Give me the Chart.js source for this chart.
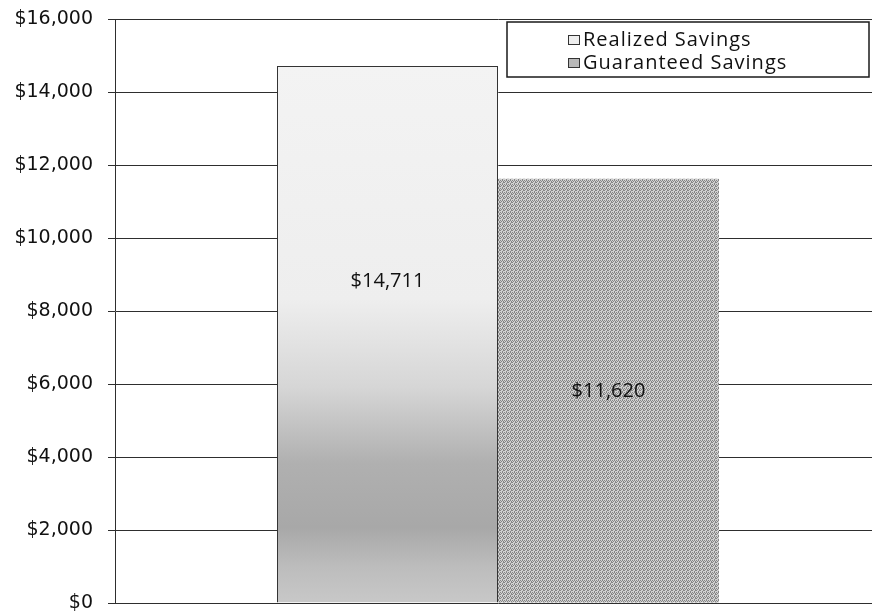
<!DOCTYPE html>
<html>
<head>
<meta charset="utf-8">
<script src="https://cdn.jsdelivr.net/npm/chart.js@4.4.1/dist/chart.umd.min.js"></script>
<style>
  html, body { margin: 0; padding: 0; background: #fff; overflow: hidden; }
  /* plot runs a little past the right edge, as in the scan */
  #wrap { width: 881px; height: 615px; }
</style>
</head>
<body>
<div id="wrap"><canvas id="chart"></canvas></div>
<script>
// Data
const categories = [""]
const seriesNames = ["Realized Savings", "Guaranteed Savings"]
const realized = [14711]
const guaranteed = [11620]
const yTicks = [0, 2000, 4000, 6000, 8000, 10000, 12000, 14000, 16000]
// where the value label sits, as a share of the bar height
const labelAt = [0.6, 0.5]

const money = (v) => "$" + v.toLocaleString("en-US")

// Small dithered fill like the scanned original
const makePattern = (dark, light) => {
  const c = document.createElement("canvas")
  c.width = 4
  c.height = 4
  const g = c.getContext("2d")
  g.fillStyle = light
  g.fillRect(0, 0, 4, 4)
  g.fillStyle = dark
  g.fillRect(0, 0, 1, 1)
  g.fillRect(2, 0, 1, 1)
  g.fillRect(1, 1, 1, 1)
  g.fillRect(3, 2, 1, 1)
  g.fillRect(0, 2, 1, 1)
  g.fillRect(2, 3, 1, 1)
  g.fillRect(3, 1, 1, 1)
  return g.createPattern(c, "repeat")
}

const realizedFill = (context) => {
  const area = context.chart.chartArea
  if (!area) return "#eeeeee"
  const ctx = context.chart.ctx
  const grad = ctx.createLinearGradient(0, area.top, 0, area.bottom)
  grad.addColorStop(0, "#f4f4f4")
  grad.addColorStop(0.48, "#eeeeee")
  grad.addColorStop(0.63, "#d6d6d6")
  grad.addColorStop(0.76, "#b0b0b0")
  grad.addColorStop(0.87, "#a8a8a8")
  grad.addColorStop(0.94, "#bdbdbd")
  grad.addColorStop(1, "#c8c8c8")
  return grad
}

// Value labels inside the bars
const valueLabels = {
  id: "valueLabels",
  afterDatasetsDraw(chart) {
    const ctx = chart.ctx
    const y = chart.scales.y
    ctx.save()
    ctx.font = "20px 'Open Sans', sans-serif"
    ctx.fillStyle = "#111"
    ctx.textAlign = "center"
    ctx.textBaseline = "middle"
    chart.data.datasets.forEach((ds, i) => {
      const bar = chart.getDatasetMeta(i).data[0]
      const v = ds.data[0]
      ctx.fillText(money(v), bar.x, y.getPixelForValue(v * labelAt[i]))
    })
    ctx.restore()
  },
}

// Boxed legend inside the plot, top right
const boxLegend = {
  id: "boxLegend",
  afterDraw(chart) {
    const ctx = chart.ctx
    const a = chart.chartArea
    const left = 507
    const top = a.top + 3
    const w = 362
    const h = 55
    ctx.save()
    ctx.fillStyle = "#fff"
    ctx.fillRect(left, top, w, h)
    ctx.strokeStyle = "#1a1a1a"
    ctx.lineWidth = 1.5
    ctx.strokeRect(left, top, w, h)
    ctx.font = "20px 'Open Sans', sans-serif"
    ctx.letterSpacing = "1px"
    ctx.textBaseline = "middle"
    ctx.textAlign = "left"
    chart.data.datasets.forEach((ds, i) => {
      const cy = top + 18 + i * 23
      const ix = left + 61
      ctx.fillStyle = ds.legendFill
      ctx.fillRect(ix, cy - 5, 12, 10)
      ctx.strokeStyle = "#333"
      ctx.lineWidth = 1
      ctx.strokeRect(ix + 0.5, cy - 4.5, 11, 9)
      ctx.fillStyle = "#111"
      ctx.fillText(ds.label, ix + 15, cy)
    })
    ctx.restore()
  },
}

new Chart(document.getElementById("chart"), {
  type: "bar",
  data: {
    labels: categories,
    datasets: [
      {
        label: seriesNames[0],
        data: realized,
        backgroundColor: realizedFill,
        borderColor: "#333",
        borderWidth: { top: 1, left: 1, right: 1, bottom: 0 },
        legendFill: "#eeeeee",
      },
      {
        label: seriesNames[1],
        data: guaranteed,
        backgroundColor: makePattern("#858585", "#d0d0d0"),
        borderWidth: 0,
        legendFill: "#b8b8b8",
      },
    ],
  },
  options: {
    responsive: true,
    maintainAspectRatio: false,
    animation: false,
    layout: { padding: { top: 19, right: 0, bottom: 12, left: 0 } },
    categoryPercentage: 0.577,
    barPercentage: 1.0,
    plugins: {
      legend: { display: false },
      tooltip: { enabled: false },
    },
    scales: {
      x: {
        display: false,
        grid: { display: false },
      },
      y: {
        min: 0,
        max: 16000,
        afterBuildTicks: (scale) => {
          scale.ticks = yTicks.map((v) => ({ value: v }))
        },
        afterFit: (scale) => {
          scale.width = 115
          scale.paddingTop = 0
          scale.paddingBottom = 0
        },
        ticks: {
          font: { family: "'DejaVu Sans', sans-serif", size: 19 },
          color: "#111",
          padding: 15,
          callback: (v) => money(v),
        },
        grid: {
          color: "#2e2e2e",
          lineWidth: 1,
          tickLength: 7,
        },
        border: { display: true, color: "#2e2e2e", width: 1 },
      },
    },
  },
  plugins: [valueLabels, boxLegend],
})
</script>
</body>
</html>
